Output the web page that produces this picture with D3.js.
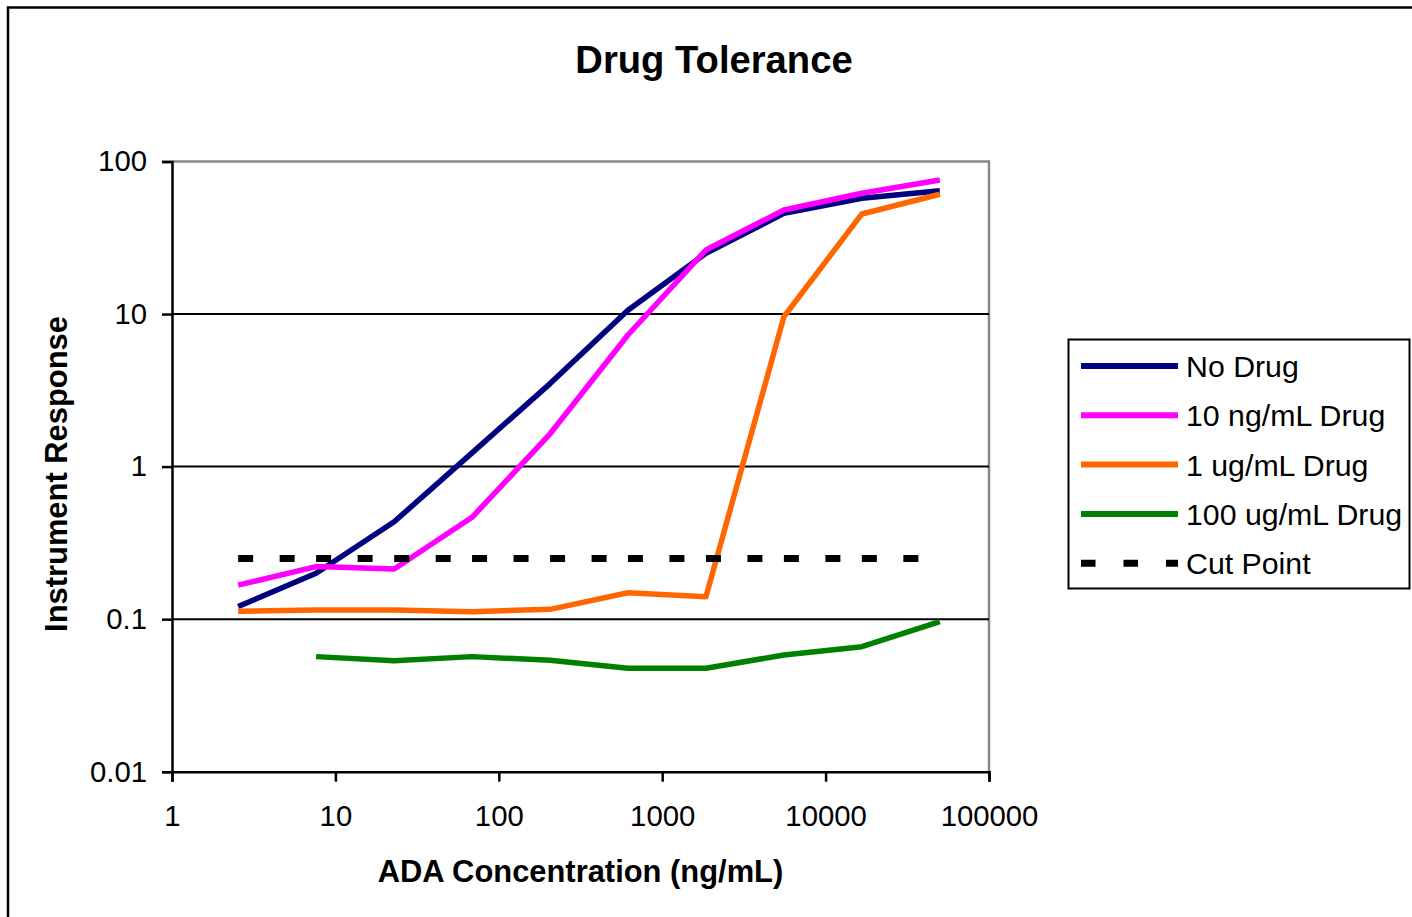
<!DOCTYPE html>
<html>
<head>
<meta charset="utf-8">
<script src="https://cdn.jsdelivr.net/npm/d3@7"></script>
<style>
  html, body { margin: 0; padding: 0; background: #fff; }
  svg { display: block; font-family: "Liberation Sans", Arial, sans-serif; }
</style>
</head>
<body>
<svg id="chart" width="1412" height="917"></svg>
<script>
// ADA concentrations (ng/mL), 3-fold dilution series
const concentrations = [2.54, 7.62, 22.9, 68.6, 206, 617, 1852, 5556, 16667, 50000];

// Instrument response for each drug level
const noDrug      = [0.121, 0.20, 0.435, 1.23, 3.5, 10.6, 25, 45.7, 57.4, 64.4];
const drug10ng    = [0.167, 0.221, 0.213, 0.465, 1.64, 7.29, 26.3, 48.1, 61.9, 75.6];
const drug1ug     = [0.1125, 0.115, 0.115, 0.112, 0.116, 0.149, 0.14, 9.6, 45.3, 61];
const drug100ug   = [null, 0.0568, 0.0534, 0.0568, 0.0537, 0.0476, 0.0476, 0.0582, 0.066, 0.0962];
const cutPoint    = [0.25, 0.25, 0.25, 0.25, 0.25, 0.25, 0.25, 0.25, 0.25, 0.25];

const seriesNames  = ["No Drug", "10 ng/mL Drug", "1 ug/mL Drug", "100 ug/mL Drug", "Cut Point"];
const seriesColors = ["#000080", "#FF00FF", "#FF6600", "#008000", "#000000"];

const xTicks = [1, 10, 100, 1000, 10000, 100000];
const yTicks = [0.01, 0.1, 1, 10, 100];

const svg = d3.select("#chart");
const plotLeft = 172, plotRight = 989, plotTop = 161.5, plotBottom = 771.7;

const x = d3.scaleLog().domain([1, 100000]).range([plotLeft, plotRight]);
const y = d3.scaleLog().domain([0.01, 100]).range([plotBottom, plotTop]);

// outer chart border
svg.append("rect")
  .attr("x", 8).attr("y", 7.5).attr("width", 1430).attr("height", 940)
  .attr("fill", "#fff").attr("stroke", "#000").attr("stroke-width", 2.5);

// title
svg.append("text")
  .attr("x", 714).attr("y", 73)
  .attr("text-anchor", "middle")
  .attr("font-size", 38.2).attr("font-weight", "bold")
  .text("Drug Tolerance");

// plot frame (top and right in gray)
svg.append("path")
  .attr("d", `M${plotLeft},${plotTop}H${plotRight}V${plotBottom}`)
  .attr("fill", "none").attr("stroke", "#888").attr("stroke-width", 2.5);

// horizontal gridlines at each decade
svg.append("g").selectAll("line")
  .data(yTicks.filter(d => d > 0.01 && d < 100))
  .join("line")
  .attr("x1", plotLeft).attr("x2", plotRight)
  .attr("y1", d => y(d)).attr("y2", d => y(d))
  .attr("stroke", "#000").attr("stroke-width", 2);

// y axis
const yAxis = svg.append("g")
  .attr("transform", `translate(${plotLeft},0)`)
  .call(d3.axisLeft(y).tickValues(yTicks).tickFormat(d => String(d)).tickSize(10).tickPadding(15));
yAxis.select(".domain").attr("stroke", "#000").attr("stroke-width", 2.5);
yAxis.selectAll(".tick line").attr("stroke", "#000").attr("stroke-width", 2.5);
yAxis.selectAll(".tick text")
  .attr("font-size", 29.3).attr("fill", "#000")
  .attr("font-family", "'Liberation Sans', Arial, sans-serif");

// x axis
const xAxis = svg.append("g")
  .attr("transform", `translate(0,${plotBottom})`)
  .call(d3.axisBottom(x).tickValues(xTicks).tickFormat(d => String(d)).tickSize(10).tickPadding(23.5));
xAxis.select(".domain").attr("stroke", "#000").attr("stroke-width", 2.5);
xAxis.selectAll(".tick line").attr("stroke", "#000").attr("stroke-width", 2.5);
xAxis.selectAll(".tick text")
  .attr("font-size", 29.3).attr("fill", "#000")
  .attr("font-family", "'Liberation Sans', Arial, sans-serif");

// axis titles
svg.append("text")
  .attr("x", (plotLeft + plotRight) / 2).attr("y", 882)
  .attr("text-anchor", "middle")
  .attr("font-size", 30.9).attr("font-weight", "bold")
  .text("ADA Concentration (ng/mL)");

svg.append("text")
  .attr("transform", "translate(67,474) rotate(-90)")
  .attr("text-anchor", "middle")
  .attr("font-size", 30.9).attr("font-weight", "bold")
  .text("Instrument Response");

// data lines
const line = d3.line()
  .defined(d => d.v != null)
  .x(d => x(d.c))
  .y(d => y(d.v));

const solidSeries = [noDrug, drug10ng, drug1ug, drug100ug];
solidSeries.forEach((vals, i) => {
  const pts = concentrations.map((c, k) => ({ c, v: vals[k] }));
  svg.append("path")
    .datum(pts)
    .attr("d", line)
    .attr("fill", "none")
    .attr("stroke", seriesColors[i])
    .attr("stroke-width", 5.5)
    .attr("stroke-linejoin", "round");
});

// cut point: dash pattern restarts at each point
const cutPts = concentrations.map((c, k) => ({ c, v: cutPoint[k] }));
d3.pairs(cutPts).forEach(seg => {
  svg.append("path")
    .datum(seg)
    .attr("d", line)
    .attr("fill", "none")
    .attr("stroke", seriesColors[4])
    .attr("stroke-width", 7)
    .attr("stroke-dasharray", "15 26.5 15 100");
});

// legend
const legend = svg.append("g");
legend.append("rect")
  .attr("x", 1068.5).attr("y", 339.5).attr("width", 341).attr("height", 249)
  .attr("fill", "#fff").attr("stroke", "#000").attr("stroke-width", 2);

seriesNames.forEach((name, i) => {
  const ly = 366 + i * 49.3;
  legend.append("line")
    .attr("x1", 1081).attr("x2", 1178)
    .attr("y1", ly).attr("y2", ly)
    .attr("stroke", seriesColors[i])
    .attr("stroke-width", i === 4 ? 7 : 6)
    .attr("stroke-dasharray", i === 4 ? "14.5 28" : null);
  legend.append("text")
    .attr("x", 1186).attr("y", ly).attr("dy", "0.36em")
    .attr("font-size", 30.3)
    .text(name);
});
</script>
</body>
</html>
